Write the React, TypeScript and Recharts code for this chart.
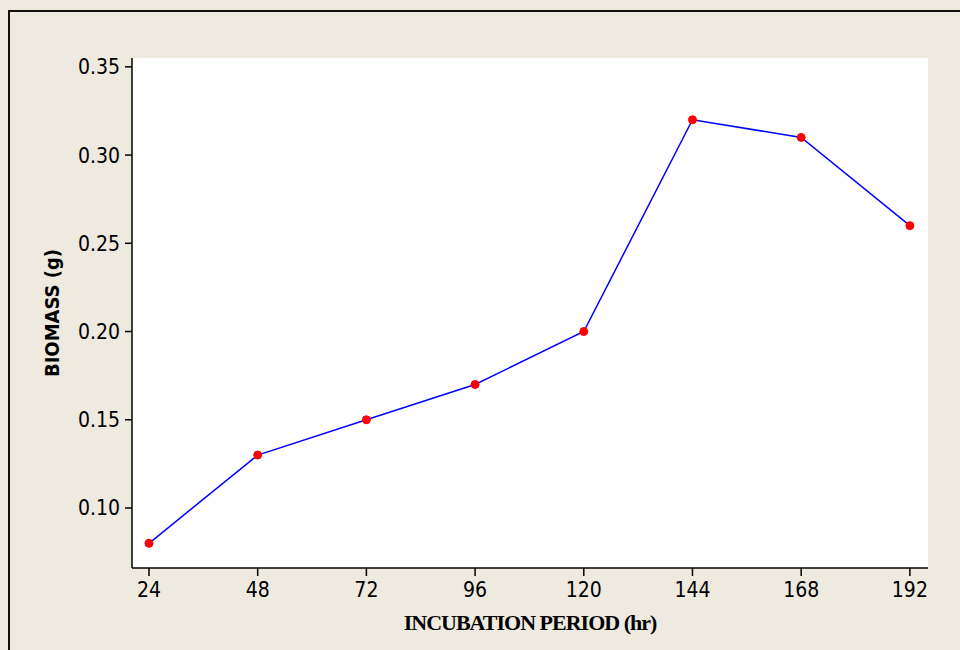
import { LineChart, Line, XAxis, YAxis, CartesianGrid, Label } from 'recharts'

const hours = [24, 48, 72, 96, 120, 144, 168, 192]
const biomass = [0.08, 0.13, 0.15, 0.17, 0.2, 0.32, 0.31, 0.26]
const yTicks = [0.1, 0.15, 0.2, 0.25, 0.3, 0.35]

const data = hours.map((h, i) => ({ hour: h, biomass: biomass[i] }))

const tickFont = { fill: '#000', fontSize: 21, fontFamily: '"DejaVu Sans Condensed", "DejaVu Sans", sans-serif' }

export default function App() {
  return (
    <div style={{ position: 'fixed', left: 0, top: 0, width: 960, height: 650, background: '#eeeae0', overflow: 'hidden' }}>
      <div style={{ position: 'absolute', left: 8, top: 10, width: 960, height: 700, border: '2px solid #111', boxSizing: 'border-box' }} />
      <div style={{ position: 'absolute', left: 0, top: 0 }}>
        <LineChart width={960} height={650} data={data} margin={{ top: 58, right: 32, bottom: 0, left: 0 }}>
          <CartesianGrid horizontal={false} vertical={false} fill="#fff" />
          <XAxis
            dataKey="hour"
            type="number"
            domain={[20.25, 196]}
            ticks={hours}
            tick={tickFont}
            tickSize={8}
            tickMargin={6}
            height={82}
            axisLine={{ stroke: '#000', strokeWidth: 1.5 }}
            tickLine={{ stroke: '#000', strokeWidth: 1.5 }}
          >
            <Label
              value="INCUBATION PERIOD (hr)"
              position="insideBottom"
              offset={20}
              style={{ fill: '#000', fontSize: 22, fontWeight: 'bold', fontFamily: '"Liberation Serif", "Times New Roman", serif', letterSpacing: -1 }}
            />
          </XAxis>
          <XAxis xAxisId="top" orientation="top" type="number" domain={[20.25, 196]} height={0} tick={false} tickLine={false} axisLine={{ stroke: '#000', strokeWidth: 1.5 }} />
          <YAxis
            type="number"
            domain={[0.066, 0.355]}
            ticks={yTicks}
            tickFormatter={v => v.toFixed(2)}
            tick={tickFont}
            tickSize={7}
            tickMargin={5}
            width={132}
            axisLine={{ stroke: '#000', strokeWidth: 1.5 }}
            tickLine={{ stroke: '#000', strokeWidth: 1.5 }}
          >
            <Label
              value="BIOMASS (g)"
              angle={-90}
              position="insideLeft"
              offset={52}
              style={{ fill: '#000', fontSize: 20, fontWeight: 'bold', fontFamily: '"DejaVu Sans Condensed", "DejaVu Sans", sans-serif', textAnchor: 'middle' }}
            />
          </YAxis>
          <YAxis yAxisId="right" orientation="right" width={0} domain={[0.066, 0.355]} tick={false} tickLine={false} axisLine={{ stroke: '#000', strokeWidth: 1.5 }} />
          <Line
            dataKey="biomass"
            stroke="#0000ff"
            strokeWidth={1.5}
            dot={{ r: 4, fill: '#ff0000', stroke: '#ff0000', strokeWidth: 1 }}
            isAnimationActive={false}
          />
        </LineChart>
      </div>
    </div>
  )
}
